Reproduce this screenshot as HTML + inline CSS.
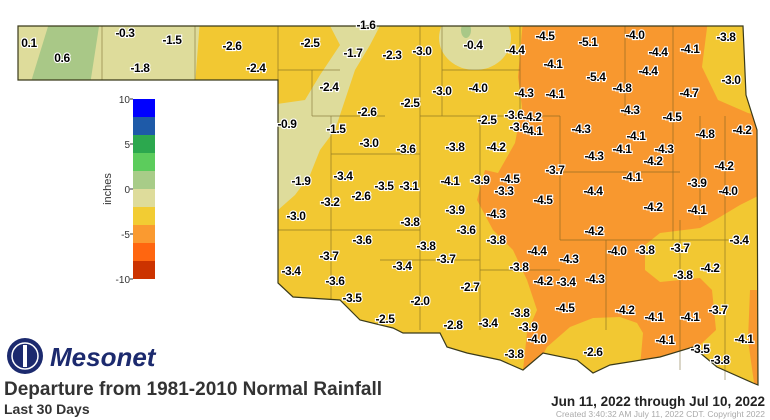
<!DOCTYPE html>
<html><head><meta charset="utf-8"><style>
html,body{margin:0;padding:0;background:#fff;}
svg{display:block;}
.l text{font-family:"Liberation Sans",sans-serif;font-weight:bold;font-size:12px;fill:#000;text-anchor:middle;stroke:#fff;stroke-width:2.2px;paint-order:stroke;letter-spacing:-0.4px}
</style></head><body>
<svg width="770" height="420" viewBox="0 0 770 420" xmlns="http://www.w3.org/2000/svg">
<defs>
<clipPath id="ok"><path id="okp" d="M18,26 L743,26 L746,95 L757,130 L758,385 L753,383 L717,367 L693,347 L660,357 L610,365 L593,373 L577,360 L543,353 L523,370 L500,360 L467,353 L447,347 L440,333 L403,333 L393,328 L360,320 L340,300 L293,297 L278,283 L278,80 L18,80 Z"/></clipPath>
</defs>
<g clip-path="url(#ok)">
<rect x="0" y="0" width="770" height="420" fill="#f2c832"/>
<!-- panhandle pale -->
<polygon points="0,20 200,20 195,85 0,85" fill="#dedc9b"/>
<polygon points="50,20 100,20 90,85 30,85" fill="#a9c887"/>
<!-- western pale band -->
<polygon points="327,20 383,20 370,45 355,70 345,100 335,130 320,150 310,175 295,195 278,210 270,210 270,105 305,100 320,75 340,45" fill="#dedc9b"/>
<ellipse cx="475" cy="38" rx="36" ry="32" fill="#dedc9b"/>
<ellipse cx="466" cy="30" rx="5" ry="8" fill="#a9c887"/>
<!-- orange -->
<polygon points="523,20 770,20 770,420 523,420 523,370 527,333 537,310 527,280 513,250 493,230 477,200 485,170 498,173 515,143 522,107 518,77" fill="#f8982f"/>
<polygon points="708,20 770,20 770,118 748,113 718,100 702,67" fill="#f2c832"/>
<polygon points="770,190 740,205 715,220 700,228 660,233 645,245 645,270 660,282 700,278 712,290 716,330 700,345 690,360 700,420 770,420" fill="#f2c832"/>
<polygon points="750,290 770,290 770,400 755,390 748,340" fill="#f8982f"/>
<polygon points="540,420 540,360 547,347 570,327 593,318 620,317 637,323 643,333 640,367 645,420" fill="#f2c832"/>
</g>
<g fill="none" stroke="#6b5a1e" stroke-width="0.7" opacity="0.7">
<line x1="102" y1="26" x2="102" y2="80"/><line x1="195" y1="26" x2="195" y2="80"/>
<line x1="278" y1="26" x2="278" y2="80"/><line x1="278" y1="70" x2="340" y2="70"/>
<line x1="312" y1="70" x2="312" y2="116"/><line x1="312" y1="116" x2="385" y2="116"/>
<line x1="331" y1="116" x2="331" y2="300"/><line x1="331" y1="154" x2="420" y2="154"/>
<line x1="420" y1="26" x2="420" y2="330"/><line x1="442" y1="70" x2="520" y2="70"/>
<line x1="442" y1="26" x2="442" y2="116"/><line x1="480" y1="116" x2="480" y2="330"/>
<line x1="420" y1="116" x2="560" y2="116"/><line x1="520" y1="26" x2="520" y2="116"/>
<line x1="560" y1="116" x2="560" y2="240"/><line x1="560" y1="172" x2="680" y2="172"/>
<line x1="625" y1="26" x2="625" y2="116"/><line x1="673" y1="26" x2="673" y2="240"/>
<line x1="560" y1="240" x2="740" y2="240"/><line x1="606" y1="240" x2="606" y2="330"/>
<line x1="480" y1="270" x2="560" y2="270"/><line x1="680" y1="220" x2="680" y2="370"/>
<line x1="380" y1="260" x2="480" y2="260"/><line x1="278" y1="230" x2="420" y2="230"/>
<line x1="700" y1="116" x2="700" y2="220"/><line x1="725" y1="116" x2="725" y2="380"/>
</g>
<use href="#okp" fill="none" stroke="#3a3a1a" stroke-width="1.2"/>
<!-- legend -->
<g>
<rect x="133" y="99" width="22" height="18" fill="#0000ff"/>
<rect x="133" y="117" width="22" height="18" fill="#1e5aa8"/>
<rect x="133" y="135" width="22" height="18" fill="#2ca84e"/>
<rect x="133" y="153" width="22" height="18" fill="#5ccc5c"/>
<rect x="133" y="171" width="22" height="18" fill="#a8cc88"/>
<rect x="133" y="189" width="22" height="18" fill="#dedc9b"/>
<rect x="133" y="207" width="22" height="18" fill="#f2cc33"/>
<rect x="133" y="225" width="22" height="18" fill="#fa9a30"/>
<rect x="133" y="243" width="22" height="18" fill="#ff6610"/>
<rect x="133" y="261" width="22" height="18" fill="#cc3300"/>
<g stroke="#333" stroke-width="1"><line x1="130" y1="99" x2="133" y2="99"/><line x1="130" y1="144" x2="133" y2="144"/><line x1="130" y1="189" x2="133" y2="189"/><line x1="130" y1="234" x2="133" y2="234"/><line x1="130" y1="279" x2="133" y2="279"/></g>
<g font-family="Liberation Sans,sans-serif" font-size="10" fill="#333" text-anchor="end">
<text x="130" y="103">10</text><text x="130" y="148">5</text><text x="130" y="193">0</text><text x="130" y="238">-5</text><text x="130" y="283">-10</text>
</g>
<text x="0" y="0" transform="translate(111,189) rotate(-90)" font-family="Liberation Sans,sans-serif" font-size="11" fill="#333" text-anchor="middle">inches</text>
</g>
<!-- labels -->
<g class="l">
<text x="29" y="47">0.1</text><text x="62" y="62">0.6</text><text x="125" y="37">-0.3</text><text x="172" y="44">-1.5</text><text x="140" y="72">-1.8</text>
<text x="232" y="50">-2.6</text><text x="256" y="72">-2.4</text><text x="310" y="47">-2.5</text><text x="366" y="29">-1.6</text><text x="353" y="57">-1.7</text>
<text x="392" y="59">-2.3</text><text x="422" y="55">-3.0</text><text x="473" y="49">-0.4</text><text x="515" y="54">-4.4</text><text x="545" y="40">-4.5</text>
<text x="588" y="46">-5.1</text><text x="635" y="39">-4.0</text><text x="658" y="56">-4.4</text><text x="690" y="53">-4.1</text><text x="726" y="41">-3.8</text>
<text x="329" y="91">-2.4</text><text x="553" y="68">-4.1</text><text x="596" y="81">-5.4</text><text x="648" y="75">-4.4</text><text x="731" y="84">-3.0</text>
<text x="442" y="95">-3.0</text><text x="478" y="92">-4.0</text><text x="524" y="97">-4.3</text><text x="555" y="98">-4.1</text><text x="622" y="92">-4.8</text><text x="689" y="97">-4.7</text>
<text x="410" y="107">-2.5</text><text x="367" y="116">-2.6</text><text x="630" y="114">-4.3</text><text x="672" y="121">-4.5</text>
<text x="287" y="128">-0.9</text><text x="336" y="133">-1.5</text><text x="369" y="147">-3.0</text><text x="487" y="124">-2.5</text><text x="514" y="119">-3.6</text><text x="532" y="121">-4.2</text>
<text x="519" y="131">-3.6</text><text x="533" y="135">-4.1</text><text x="581" y="133">-4.3</text><text x="636" y="140">-4.1</text><text x="705" y="138">-4.8</text><text x="742" y="134">-4.2</text>
<text x="406" y="153">-3.6</text><text x="455" y="151">-3.8</text><text x="496" y="151">-4.2</text><text x="622" y="153">-4.1</text><text x="664" y="153">-4.3</text><text x="653" y="165">-4.2</text><text x="724" y="170">-4.2</text>
<text x="301" y="185">-1.9</text><text x="343" y="180">-3.4</text><text x="555" y="174">-3.7</text><text x="594" y="160">-4.3</text><text x="510" y="183">-4.5</text><text x="450" y="185">-4.1</text><text x="480" y="184">-3.9</text>
<text x="384" y="190">-3.5</text><text x="409" y="190">-3.1</text><text x="361" y="200">-2.6</text><text x="330" y="206">-3.2</text><text x="504" y="195">-3.3</text><text x="593" y="195">-4.4</text><text x="632" y="181">-4.1</text>
<text x="697" y="187">-3.9</text><text x="728" y="195">-4.0</text><text x="543" y="204">-4.5</text>
<text x="296" y="220">-3.0</text><text x="410" y="226">-3.8</text><text x="455" y="214">-3.9</text><text x="496" y="218">-4.3</text><text x="594" y="235">-4.2</text><text x="653" y="211">-4.2</text><text x="697" y="214">-4.1</text>
<text x="362" y="244">-3.6</text><text x="466" y="234">-3.6</text><text x="426" y="250">-3.8</text><text x="496" y="244">-3.8</text><text x="617" y="255">-4.0</text><text x="645" y="254">-3.8</text><text x="680" y="252">-3.7</text><text x="739" y="244">-3.4</text>
<text x="329" y="260">-3.7</text><text x="291" y="275">-3.4</text><text x="446" y="263">-3.7</text><text x="537" y="255">-4.4</text><text x="569" y="263">-4.3</text><text x="519" y="271">-3.8</text><text x="683" y="279">-3.8</text><text x="710" y="272">-4.2</text>
<text x="335" y="285">-3.6</text><text x="402" y="270">-3.4</text><text x="470" y="291">-2.7</text><text x="543" y="285">-4.2</text><text x="566" y="286">-3.4</text><text x="595" y="283">-4.3</text>
<text x="352" y="302">-3.5</text><text x="420" y="305">-2.0</text><text x="565" y="312">-4.5</text><text x="625" y="314">-4.2</text><text x="654" y="321">-4.1</text><text x="690" y="321">-4.1</text><text x="718" y="314">-3.7</text>
<text x="385" y="323">-2.5</text><text x="453" y="329">-2.8</text><text x="488" y="327">-3.4</text><text x="520" y="317">-3.8</text><text x="528" y="331">-3.9</text><text x="537" y="343">-4.0</text>
<text x="665" y="344">-4.1</text><text x="744" y="343">-4.1</text><text x="593" y="356">-2.6</text><text x="514" y="358">-3.8</text><text x="700" y="353">-3.5</text><text x="720" y="364">-3.8</text>
</g>
<!-- logo -->
<circle cx="25" cy="356" r="18" fill="#1c2a6e"/>
<circle cx="25" cy="356" r="13" fill="none" stroke="#fff" stroke-width="1.5"/>
<rect x="23" y="345" width="4" height="22" fill="#fff"/>
<text x="50" y="366" font-family="Liberation Sans,sans-serif" font-weight="bold" font-style="italic" font-size="26" fill="#1c2a6e">Mesonet</text>
<text x="4" y="395" font-family="Liberation Sans,sans-serif" font-weight="bold" font-size="19" fill="#333">Departure from 1981-2010 Normal Rainfall</text>
<text x="4" y="414" font-family="Liberation Sans,sans-serif" font-weight="bold" font-size="14" fill="#333">Last 30 Days</text>
<text x="765" y="406" text-anchor="end" font-family="Liberation Sans,sans-serif" font-weight="bold" font-size="13.5" fill="#222">Jun 11, 2022 through Jul 10, 2022</text>
<text x="765" y="417" text-anchor="end" font-family="Liberation Sans,sans-serif" font-size="8.5" fill="#aaa">Created 3:40:32 AM July 11, 2022 CDT. Copyright 2022</text>
</svg>
</body></html>
